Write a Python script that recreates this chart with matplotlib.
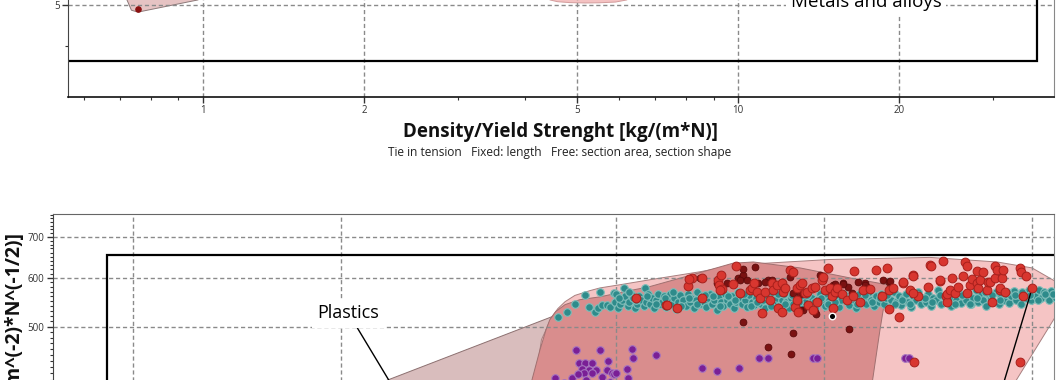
import matplotlib
matplotlib.use("Agg")
import matplotlib.pyplot as plt
from matplotlib.patches import Rectangle
from matplotlib.ticker import FixedLocator, NullFormatter
import numpy as np

plt.rcParams['font.family'] = ['Open Sans', 'DejaVu Sans']

# ---------------- top chart (only its lower part is visible) ----------------
top_xticks = [1, 2, 5, 10, 20]
top_xminor = [0.6, 0.7, 0.8, 0.9, 3, 4, 6, 7, 8, 9, 30]
top_yticks = [5]
top_yminor = [4]

top_region_x = [0.70, 0.721, 0.735, 0.756, 0.979, 1.15]        # light grey-pink envelope, left
top_region_y = [7.0, 5.14, 4.86, 4.81, 5.14, 7.0]
top_ellipse_x = [4.30, 4.45, 4.60, 4.85, 5.18, 5.50, 5.90, 6.20, 6.40]
top_ellipse_y = [6.0, 5.14, 5.09, 5.065, 5.055, 5.06, 5.08, 5.14, 6.0]
top_point_x = [0.756]
top_point_y = [4.893]
top_box = (0.30, 3.686, 36.2, 20.0)                                # x0, y0, x1, y1

# ---------------- bottom chart (only its upper part is visible) ----------------
bot_xticks = [1, 2, 5, 10, 20]
bot_yticks = [500, 600, 700]
bot_box = (0.917, 250, 40, 654)

region_b_x = [1.66, 4.04, 3.96, 3.70]          # grey-pink wedge
region_b_y = [353, 519, 494, 353]
region_a_x = [4.04, 4.12, 4.22, 4.36, 4.58, 4.74, 5.07, 5.60, 6.61, 7.47, 10.2, 14.23,
              17.8, 20.0, 21.7, 21.6, 19.0, 17.5, 3.75, 3.90]          # light pink envelope
region_a_y = [519, 535, 549, 562, 572, 578, 585, 596, 614, 630, 643, 648,
              637, 623, 591, 518, 410, 353, 353, 476]
region_c_x = [3.78, 3.88, 3.96, 4.01, 4.09, 4.22, 4.43, 4.74, 5.07, 5.60, 6.61, 7.38,
              7.90, 9.23, 10.91, 12.35, 12.05, 11.76, 11.60, 3.69]     # darker red region
region_c_y = [410, 458, 494, 513, 529, 543, 553, 559, 568, 581, 612, 634,
              637, 623, 600, 585, 494, 410, 353, 353]

teal_pts = [
    (4.12, 519), (4.25, 529), (4.36, 545), (4.51, 562), (4.57, 539), (4.66, 529), (4.71, 537),
    (4.74, 570), (4.78, 543), (4.85, 543), (4.90, 539), (4.96, 568), (5.00, 564), (4.98, 549),
    (5.04, 537), (5.07, 545), (5.10, 553), (5.13, 578), (5.16, 560), (5.20, 541), (5.23, 549),
    (5.26, 566), (5.30, 557), (5.33, 537), (5.37, 545), (5.40, 560), (5.44, 553), (5.48, 541),
    (5.51, 578), (5.53, 549), (5.57, 566), (5.60, 545), (5.64, 557), (5.68, 537), (5.71, 553),
    (5.75, 564), (5.79, 545), (5.83, 549), (5.86, 560), (5.90, 539), (5.94, 553), (5.98, 566),
    (6.02, 545), (6.06, 557), (6.10, 535), (6.14, 549), (6.18, 562), (6.22, 545), (6.26, 553),
    (6.31, 541), (6.35, 566), (6.39, 549), (6.43, 557), (6.48, 537), (6.52, 553), (6.56, 570),
    (6.61, 545), (6.65, 560), (6.70, 549), (6.74, 539), (6.79, 557), (6.84, 566), (6.89, 545),
    (6.94, 553), (6.99, 533), (7.04, 560), (7.09, 549), (7.14, 541), (7.19, 566), (7.24, 553),
    (7.30, 545), (7.35, 560), (7.40, 537), (7.46, 549), (7.51, 570), (7.57, 557), (7.62, 545),
    (7.68, 553), (7.74, 539), (7.80, 562), (7.86, 549), (7.92, 543), (7.98, 557), (8.04, 566),
    (8.10, 545), (8.16, 553), (8.22, 537), (8.29, 560), (8.35, 549), (8.42, 570), (8.48, 545),
    (8.55, 557), (8.61, 541), (8.68, 553), (8.75, 564), (8.82, 549), (8.89, 537), (8.96, 557),
    (9.03, 545), (9.10, 566), (9.17, 553), (9.25, 541), (9.32, 560), (9.40, 549), (9.47, 570),
    (9.55, 545), (9.62, 557), (9.70, 537), (9.78, 553), (9.86, 566), (9.94, 549), (10.02, 541),
    (10.10, 560), (10.18, 553), (10.26, 545), (10.35, 570), (10.43, 557), (10.52, 539),
    (10.60, 553), (10.69, 566), (10.78, 549), (10.87, 543), (10.96, 560), (11.05, 553),
    (11.14, 537), (11.23, 566), (11.32, 549), (11.42, 557), (11.51, 545), (11.61, 570),
    (11.70, 553), (11.80, 541), (11.90, 560), (12.00, 549), (12.10, 566), (12.20, 545),
    (12.30, 557), (12.40, 537), (12.50, 553), (12.61, 570), (12.71, 549), (12.82, 560),
    (12.92, 543), (13.03, 557), (13.14, 566), (13.25, 549), (13.36, 539), (13.47, 560),
    (13.58, 553), (13.70, 570), (13.81, 545), (13.93, 557), (14.04, 549), (14.16, 566),
    (14.28, 541), (14.40, 557), (14.52, 553), (14.64, 574), (14.76, 545), (14.88, 560),
    (15.01, 549), (15.13, 566), (15.26, 541), (15.39, 557), (15.51, 553), (15.64, 570),
    (15.78, 547), (15.91, 560), (16.04, 553), (16.18, 566), (16.31, 545), (16.45, 557),
    (16.59, 574), (16.73, 549), (16.87, 562), (17.01, 553), (17.15, 541), (17.30, 566),
    (17.44, 557), (17.59, 549), (17.74, 570), (17.89, 545), (18.04, 560), (18.19, 553),
    (18.34, 566), (18.50, 547), (18.65, 560), (18.81, 572), (18.97, 553), (19.13, 562),
    (19.29, 545), (19.45, 566), (19.62, 557), (19.78, 574), (19.95, 553), (20.12, 566),
    (20.29, 560), (20.46, 574), (20.63, 557), (20.80, 570), (20.98, 562), (21.15, 553),
    (21.33, 572), (21.51, 562), (21.69, 557), (21.87, 570), (22.05, 566),
    (5.05, 557), (5.22, 570), (5.35, 553), (5.55, 560), (5.72, 545), (5.88, 557), (6.04, 570),
    (6.20, 541), (6.37, 557), (6.54, 545), (6.72, 562), (6.90, 560), (7.07, 541), (7.27, 560),
    (7.44, 553), (7.65, 566), (7.83, 541), (8.01, 549), (8.19, 562), (8.38, 541), (8.58, 566),
    (8.78, 545), (8.99, 562), (9.21, 549), (9.44, 562), (9.66, 549), (9.90, 557), (10.14, 545),
    (10.39, 549), (10.64, 562), (10.91, 557), (11.18, 545), (11.47, 562), (11.75, 549),
    (12.05, 557), (12.35, 562), (12.66, 545), (12.97, 553), (13.30, 545), (13.64, 562),
    (13.98, 557), (14.34, 549), (14.70, 562), (15.07, 560), (15.45, 545), (15.84, 562),
    (16.24, 545), (16.66, 557), (17.08, 570), (17.52, 562), (17.96, 553), (18.42, 570),
    (18.89, 562), (19.37, 570), (19.86, 562), (20.37, 553), (20.89, 566), (21.42, 566),
    (21.96, 553),
]

red_pts = [
    (5.34, 557), (5.90, 543), (5.92, 543), (6.13, 537), (6.44, 600), (6.36, 583), (6.38, 598),
    (6.65, 600), (6.67, 557), (7.02, 596), (7.10, 606), (7.05, 585), (7.12, 576), (7.07, 574),
    (7.38, 587), (7.47, 628), (7.56, 568), (7.81, 574), (7.86, 578), (7.92, 589), (8.00, 570),
    (8.08, 557), (8.13, 527), (8.21, 570), (8.35, 553), (8.41, 589), (8.43, 574), (8.55, 585),
    (8.58, 537), (8.70, 529), (8.70, 589), (8.73, 570), (8.79, 578), (8.93, 618), (9.02, 614),
    (9.08, 539), (9.14, 578), (9.14, 553), (9.17, 529), (9.23, 585), (9.30, 589), (9.39, 568),
    (9.45, 570), (9.48, 543), (9.61, 578), (9.64, 533), (9.71, 581), (9.77, 549), (9.94, 596),
    (9.97, 602), (10.04, 574), (10.13, 623), (10.20, 578), (10.27, 560), (10.30, 537),
    (10.37, 570), (10.44, 578), (10.62, 564), (10.79, 553), (11.00, 560), (11.05, 616),
    (11.27, 549), (11.38, 574), (11.66, 576), (11.89, 618), (12.13, 560), (12.35, 623),
    (12.40, 574), (12.40, 535), (12.60, 578), (12.86, 519), (13.00, 589), (13.32, 574),
    (13.46, 607), (13.68, 560), (13.46, 568), (13.50, 438), (14.14, 581), (14.23, 630),
    (14.28, 628), (14.72, 593), (14.87, 640), (15.02, 560), (15.07, 549), (15.07, 566),
    (15.22, 574), (15.32, 600), (15.48, 568), (15.63, 581), (15.90, 604), (15.99, 637),
    (16.10, 628), (16.10, 568), (16.27, 585), (16.38, 598), (16.65, 616), (16.65, 589),
    (16.71, 578), (16.82, 596), (16.99, 614), (17.22, 574), (17.28, 591), (17.39, 591),
    (17.50, 549), (17.68, 628), (17.68, 600), (17.80, 618), (17.98, 574), (17.98, 578),
    (18.10, 600), (18.17, 618), (18.30, 570), (19.21, 623), (19.28, 614), (19.41, 560),
    (19.61, 604), (20.00, 578), (19.21, 438), (13.46, 604), (13.00, 591), (14.72, 596),
]

darkred_pts = [
    (6.61, 600), (6.99, 589), (7.24, 589), (7.50, 600), (7.60, 602), (7.63, 606), (7.95, 625),
    (7.63, 620), (8.30, 596), (8.03, 589), (7.56, 596), (7.73, 596), (8.21, 591), (8.41, 596),
    (8.70, 591), (8.93, 602), (9.02, 568), (9.23, 564), (9.33, 533), (9.71, 529), (9.23, 533),
    (9.74, 525), (9.87, 606), (9.97, 596), (10.30, 585), (10.44, 568), (10.65, 589),
    (10.83, 581), (10.97, 568), (11.20, 591), (11.46, 589), (11.55, 581), (12.17, 596),
    (12.40, 591), (10.37, 587), (10.65, 587), (11.46, 585), (12.46, 594),
    (7.63, 508), (9.02, 488), (10.86, 495), (8.30, 463), (8.96, 451),
]

purple_pts = [
    (4.37, 458), (4.74, 458), (4.87, 439), (4.42, 436), (4.51, 436), (4.62, 436), (4.47, 427),
    (4.57, 425), (4.68, 425), (4.49, 421), (4.62, 420), (4.85, 425), (4.93, 421), (4.96, 418),
    (4.08, 412), (4.32, 413), (4.53, 410), (5.00, 420), (5.18, 427), (5.20, 413), (5.27, 460),
    (5.29, 445), (5.72, 450), (6.65, 428), (6.99, 424), (7.53, 428), (8.05, 444), (8.30, 444),
    (9.64, 444), (9.77, 444), (13.10, 444), (13.27, 444), (4.20, 405), (4.60, 404), (4.90, 406),
    (4.77, 414), (4.40, 418),
]

black_pts = [(10.27, 521)]


def xs(pts):
    return [p[0] for p in pts]


def ys(pts):
    return [p[1] for p in pts]


grid_kw = dict(color='#8a8a8a', linestyle=(0, (3, 2)), linewidth=1.0)

fig = plt.figure(figsize=(10.62, 3.8), dpi=100)

# ---------- top axes ----------
ax1 = fig.add_axes([68 / 1062, 1 - 97 / 380, 986 / 1062, 297 / 380])
ax1.set_xscale('log')
ax1.set_yscale('log')
ax1.set_xlim(0.5594, 38.96)
ax1.set_ylim(3.03, 15.26)

ax1.fill(top_region_x, top_region_y, facecolor='#e6c3c3', edgecolor='#8c7878', linewidth=0.7, zorder=1)
ax1.fill(top_ellipse_x, top_ellipse_y, facecolor='#f4c2c2', edgecolor='#d39c9c', linewidth=0.7, zorder=1)
ax1.scatter(top_point_x, top_point_y, s=14, color='#8b1010', zorder=4)
ax1.add_patch(Rectangle((top_box[0], top_box[1]), top_box[2] - top_box[0], top_box[3] - top_box[1],
                        fill=False, edgecolor='black', linewidth=1.6, zorder=2))

ax1.xaxis.set_major_locator(FixedLocator(top_xticks))
ax1.xaxis.set_minor_locator(FixedLocator(top_xminor))
ax1.set_xticklabels([str(v) for v in top_xticks])
ax1.xaxis.set_minor_formatter(NullFormatter())
ax1.yaxis.set_major_locator(FixedLocator(top_yticks))
ax1.yaxis.set_minor_locator(FixedLocator(top_yminor))
ax1.set_yticklabels([str(v) for v in top_yticks])
ax1.yaxis.set_minor_formatter(NullFormatter())
ax1.grid(True, which='major', **grid_kw)

ax1.text(17.35, 4.946, 'Metals and alloys', fontsize=13.5, ha='center', va='baseline',
         bbox=dict(boxstyle='square,pad=0.25', fc='white', ec='none'), zorder=6)

# ---------- bottom axes ----------
ax2 = fig.add_axes([53 / 1062, (380 - 463) / 380, 1001 / 1062, 249 / 380])
ax2.set_xscale('log')
ax2.set_yscale('log')
ax2.set_xlim(0.766, 21.52)
ax2.set_ylim(300, 762.4)

ax2.fill(region_b_x, region_b_y, facecolor='#d9bdbd', edgecolor='#8c7070', linewidth=0.7, zorder=1)
ax2.fill(region_a_x, region_a_y, facecolor='#f5c4c4', edgecolor='#a88080', linewidth=0.7, zorder=1)
ax2.fill(region_c_x, region_c_y, facecolor='#d98d8d', edgecolor='#a07070', linewidth=0.7, zorder=1)
ax2.add_patch(Rectangle((bot_box[0], bot_box[1]), bot_box[2] - bot_box[0], bot_box[3] - bot_box[1],
                        fill=False, edgecolor='black', linewidth=1.6, zorder=2))

ax2.scatter(xs(teal_pts), ys(teal_pts), s=30, facecolor='#2e8b8b', edgecolor='#7fbdb9', linewidth=0.8, zorder=3)
ax2.scatter(xs(purple_pts), ys(purple_pts), s=30, facecolor='#7a1f96', edgecolor='#a775c0', linewidth=0.8, zorder=4)
ax2.scatter(xs(darkred_pts), ys(darkred_pts), s=24, facecolor='#7a1212', edgecolor='#5a0a0a', linewidth=0.6, zorder=4)
ax2.scatter(xs(red_pts), ys(red_pts), s=40, facecolor='#d8362f', edgecolor='#a8201c', linewidth=0.7, zorder=5)
ax2.scatter(xs(black_pts), ys(black_pts), s=22, facecolor='black', edgecolor='white', linewidth=1.0, zorder=6)

ax2.xaxis.set_major_locator(FixedLocator(bot_xticks))
ax2.xaxis.set_minor_formatter(NullFormatter())
ax2.yaxis.set_major_locator(FixedLocator(bot_yticks))
ax2.set_yticklabels([str(v) for v in bot_yticks])
ax2.yaxis.set_minor_locator(FixedLocator([v for v in range(300, 770, 10) if v not in bot_yticks]))
ax2.yaxis.set_minor_formatter(NullFormatter())
ax2.grid(True, which='major', **grid_kw)

ax2.annotate('Plastics', xy=(2.44, 380), xytext=(2.05, 526), fontsize=13, ha='center', va='center',
             bbox=dict(boxstyle='square,pad=0.3', fc='white', ec='none'),
             arrowprops=dict(arrowstyle='-', color='black', lw=1.0, shrinkA=0, shrinkB=0), zorder=7)
ax2.annotate('', xy=(19.9, 566), xytext=(17.8, 372.8),
             arrowprops=dict(arrowstyle='-', color='black', lw=1.0, shrinkA=0, shrinkB=0), zorder=7)

for ax in (ax1, ax2):
    ax.tick_params(which='major', direction='out', length=4, width=1, labelsize=7, colors='#333333', pad=2)
    ax.tick_params(which='minor', direction='out', length=2.5, width=0.8, colors='#333333')
    ax.spines['right'].set_color('#888888')
    ax.spines['left'].set_color('#444444')
ax2.tick_params(axis='x', labelbottom=False)
ax1.spines['bottom'].set_color('#111111')
ax1.spines['bottom'].set_linewidth(1.2)
ax2.spines['top'].set_color('#666666')

fig.text(560 / 1062, 1 - 137 / 380, 'Density/Yield Strenght [kg/(m*N)]', ha='center', va='baseline',
         fontsize=13.5, fontweight='bold', color='#111111')
fig.text(560 / 1062, 1 - 156 / 380, 'Tie in tension   Fixed: length   Free: section area, section shape',
         ha='center', va='baseline', fontsize=8.6, color='#222222')
fig.text(15 / 1062, 1 - 233 / 380, 'Density/Yield Strenght^(1/2) [kg*m^(-2)*N^(-1/2)]', rotation=90,
         ha='center', va='top', fontsize=14, fontweight='bold', color='#111111')

fig.savefig('out.png', dpi=100)
